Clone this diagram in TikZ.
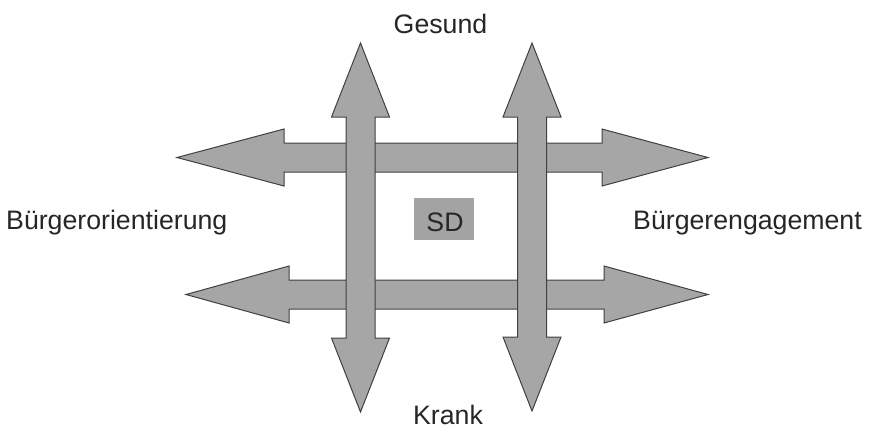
\documentclass[tikz,border=0pt]{standalone}
\usepackage{fontspec}
\setmainfont{Liberation Sans}
\definecolor{arrowfill}{HTML}{A6A6A6}
\definecolor{arrowline}{HTML}{404040}
\definecolor{sdfill}{HTML}{A3A3A3}
\begin{document}
\begin{tikzpicture}[x=1pt,y=-1pt,
  bigarrow/.style={fill=arrowfill,draw=arrowline,line width=1pt,line join=miter},
  label/.style={inner sep=0pt,anchor=base,font=\fontsize{26.7}{30}\selectfont,text=black!85}]
\useasboundingbox (0,0) rectangle (869,429);
% horizontal arrows (below)
\draw[bigarrow] (177,157.5) -- (284,129) -- (284,143) -- (602,143) -- (602,129) -- (708,157.5) -- (602,186) -- (602,172) -- (284,172) -- (284,186) -- cycle;
\draw[bigarrow] (186,294.5) -- (289,266) -- (289,280) -- (604,280) -- (604,266) -- (708,294.5) -- (604,323) -- (604,309) -- (289,309) -- (289,323) -- cycle;
% vertical arrows (on top)
\draw[bigarrow] (360.5,43) -- (389.5,117) -- (375,117) -- (375,338) -- (389.5,338) -- (360.5,412) -- (331.5,338) -- (346,338) -- (346,117) -- (331.5,117) -- cycle;
\draw[bigarrow] (532,43) -- (561,117) -- (546.5,117) -- (546.5,337) -- (561,337) -- (532,411) -- (503,337) -- (517.5,337) -- (517.5,117) -- (503,117) -- cycle;
% SD box
\fill[sdfill] (414,198) rectangle (474,240);
\node[label] (sd) at (445,231) {SD};
\node[label] (gesund) at (440.5,33) {Gesund};
\node[label] (krank) at (448,424) {Krank};
\node[label,anchor=base west] (orient) at (6,229) {Bürgerorientierung};
\node[label,anchor=base west] (engage) at (633,229) {Bürgerengagement};
\end{tikzpicture}
\end{document}
